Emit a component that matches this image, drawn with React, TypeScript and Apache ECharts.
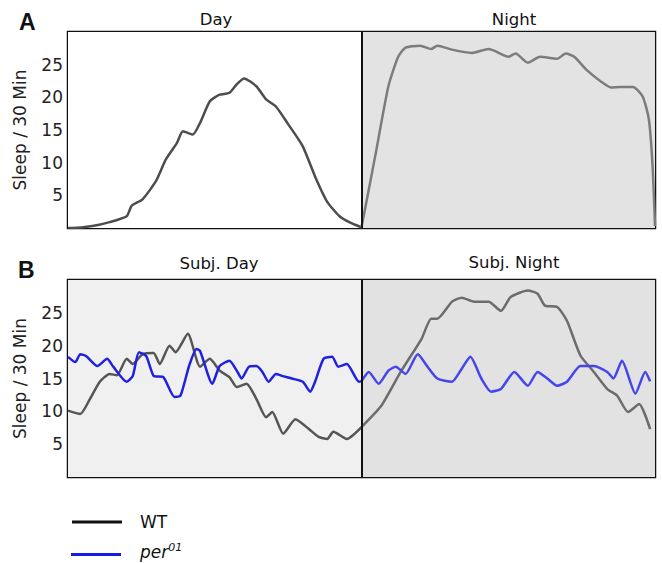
import React, { useEffect, useRef } from "react";
import * as echarts from "echarts";

// Panel A (LD): hours 0-24, sleep per 30 min
const aDayT = [0, 0.2, 1.0, 1.7, 2.4, 2.6, 3.05, 3.6, 4.0, 4.45, 4.7, 5.1, 5.4, 5.8, 6.2, 6.6, 6.9, 7.2, 7.7, 8.1, 8.5, 9.0, 9.6, 10.1, 10.6, 11.1, 11.5, 12];
const aDayV = [0, 0, 0.3, 0.9, 1.8, 3.4, 4.4, 7.2, 10.5, 13, 14.8, 14.3, 16.1, 19.4, 20.4, 20.7, 22, 22.9, 21.7, 19.7, 18.6, 15.9, 12.5, 7.9, 4, 1.8, 0.9, 0.1];
const aNightT = [12, 12.56, 13.1, 13.5, 13.8, 14.4, 14.85, 15.1, 15.7, 16.5, 17.2, 17.45, 18, 18.3, 18.8, 19.3, 20, 20.35, 20.7, 21.2, 21.8, 22.2, 22.6, 23.1, 23.5, 23.75, 23.9, 24];
const aNightV = [0.1, 11, 21.7, 26.2, 27.6, 27.9, 27.4, 27.9, 27.3, 26.8, 27.4, 27.1, 26.2, 26.7, 25.3, 26.2, 25.9, 26.7, 26.2, 24.2, 22.4, 21.5, 21.6, 21.6, 20.1, 16.6, 9.5, 0.3];

// Panel B (DD): WT and per01
const bWtT = [0, 0.5, 0.9, 1.3, 1.7, 2.0, 2.4, 2.65, 3.05, 3.5, 3.75, 4.15, 4.4, 4.9, 5.4, 5.8, 6.2, 6.6, 6.9, 7.3, 7.7, 8.1, 8.35, 8.8, 9.3, 9.85, 10.25, 10.6, 10.85, 11.4, 12, 12.8, 13.6, 14.45, 14.85, 15.1, 15.7, 16.1, 16.6, 17.2, 17.7, 18.1, 18.8, 19.2, 19.5, 20, 20.4, 20.95, 21.5, 22.05, 22.45, 22.9, 23.35, 23.8];
const bWtV = [10.1, 9.6, 11.9, 14.5, 15.7, 15.5, 18, 17.2, 18.7, 18.9, 17.2, 20, 19, 21.8, 16.8, 18, 16.2, 15.2, 13.7, 14.2, 11.9, 9.1, 9.9, 6.6, 8.8, 7.3, 6.1, 5.8, 6.9, 5.8, 7.6, 10.8, 16, 21, 24.1, 24.1, 26.7, 27.3, 26.7, 26.7, 25.3, 27.4, 28.4, 27.9, 26.1, 25.9, 23.8, 18.5, 16, 13.4, 12.4, 9.9, 11.1, 7.3];
const bPerT = [0, 0.3, 0.5, 0.75, 1.2, 1.6, 1.85, 2.4, 2.65, 2.9, 3.2, 3.5, 3.9, 4.35, 4.6, 4.95, 5.25, 5.4, 5.9, 6.2, 6.6, 6.9, 7.1, 7.4, 7.7, 7.95, 8.2, 8.5, 8.75, 9.15, 9.6, 9.9, 10.1, 10.45, 10.8, 11.05, 11.4, 11.9, 12, 12.3, 12.7, 13.1, 13.4, 13.8, 14.3, 14.7, 15.1, 15.7, 16.1, 16.45, 16.9, 17.3, 17.7, 18.25, 18.8, 19.2, 19.6, 20, 20.4, 20.95, 21.5, 22.05, 22.3, 22.65, 23.2, 23.6, 23.8];
const bPerV = [18.3, 17.5, 18.7, 18.4, 16.9, 18, 16.8, 14.5, 15.4, 19, 18.4, 15.4, 15.2, 12.2, 12.4, 16.9, 19.5, 19.2, 14.2, 16.9, 17.7, 16.2, 15, 16.8, 16.9, 16, 14.5, 15.7, 15.4, 15, 14.5, 13, 14.5, 18, 18.3, 16.8, 17.2, 14.5, 14.6, 16, 14.2, 16.2, 16.8, 15.7, 18.7, 16.8, 15, 14.5, 16.5, 18.3, 15, 13, 13.4, 16, 13.9, 16, 15, 13.9, 14.5, 16.9, 16.9, 16, 15, 17.7, 12.7, 16, 14.6];

const yTicks = [5, 10, 15, 20, 25];
const panelTitles = [["Day", "Night"], ["Subj. Day", "Subj. Night"]];
const panelLetters = ["A", "B"];
const legendNames = ["WT", "per01"];

const pairs = (t: number[], v: number[]) => t.map((x, i) => [x, v[i]]);
const part = (t: number[], v: number[], day: boolean) =>
  pairs(t, v).filter((p) => (day ? p[0] <= 12 : p[0] >= 12));

const FONT = "DejaVu Sans, Liberation Sans, Arial, sans-serif";
const BOLD = "Liberation Sans, Arial, sans-serif";

export default function App() {
  const ref = useRef<HTMLDivElement>(null);
  useEffect(() => {
    if (!ref.current) return;
    const chart = echarts.init(ref.current, undefined, { renderer: "svg" });
    const grids = [
      { left: 68, top: 32, width: 587, height: 196 },
      { left: 68, top: 280, width: 587, height: 197 },
    ];
    const yAxis = grids.map((_, i) => ({
      type: "value",
      gridIndex: i,
      min: 0,
      max: 30,
      interval: 5,
      name: "Sleep / 30 Min",
      nameLocation: "middle",
      nameGap: 40,
      nameTextStyle: { fontSize: 17, color: "#222", fontFamily: FONT },
      axisLine: { show: false },
      axisTick: { show: false },
      splitLine: { show: false },
      axisLabel: {
        fontSize: 17,
        color: "#222",
        fontFamily: FONT,
        margin: 5,
        formatter: (v: number) => (yTicks.includes(v) ? String(v) : ""),
      },
    }));
    const xAxis = grids.map((_, i) => ({
      type: "value",
      gridIndex: i,
      min: 0,
      max: 24,
      show: false,
    }));
    const bgArea = (dayColor: string, nightColor: string) => ({
      silent: true,
      data: [
        [{ xAxis: 0, itemStyle: { color: dayColor } }, { xAxis: 12 }],
        [{ xAxis: 12, itemStyle: { color: nightColor } }, { xAxis: 24 }],
      ],
    });
    const divider = {
      silent: true,
      symbol: "none",
      label: { show: false },
      lineStyle: { color: "#111", width: 2, type: "solid" },
      data: [{ xAxis: 12 }],
    };
    const line = (xi: number, data: number[][], color: string, extra: any = {}) => ({
      type: "line",
      xAxisIndex: xi,
      yAxisIndex: xi,
      data,
      showSymbol: false,
      smooth: 0.2,
      lineStyle: { color, width: 2.5 },
      z: 3,
      ...extra,
    });
    const titleText = (text: string, x: number, y: number) => ({
      type: "text",
      x,
      y,
      style: { text, fontSize: 16.5, fill: "#111", fontFamily: FONT, align: "center", verticalAlign: "middle" },
    });
    chart.setOption({
      animation: false,
      grid: grids.map((g) => ({ ...g, show: true, borderColor: "#111", borderWidth: 2.5, backgroundColor: "transparent" })),
      xAxis,
      yAxis,
      series: [
        line(0, part(aDayT, aDayV, true), "#4d4d4d", { markArea: bgArea("#ffffff", "#e3e3e3"), markLine: divider }),
        line(0, part(aNightT, aNightV, false), "#7c7c7c"),
        line(1, part(bWtT, bWtV, true), "#555555", { markArea: bgArea("#f0f0f0", "#e2e2e2"), markLine: divider }),
        line(1, part(bWtT, bWtV, false), "#6c6c6c"),
        line(1, part(bPerT, bPerV, true), "#2020e0", { z: 4 }),
        line(1, part(bPerT, bPerV, false), "#4545ec", { z: 4 }),
      ],
      graphic: [
        { type: "text", x: 19, y: 22, style: { text: panelLetters[0], fontSize: 23, fontWeight: "bold", fill: "#111", fontFamily: BOLD, verticalAlign: "middle" } },
        { type: "text", x: 18, y: 270, style: { text: panelLetters[1], fontSize: 23, fontWeight: "bold", fill: "#111", fontFamily: BOLD, verticalAlign: "middle" } },
        titleText(panelTitles[0][0], 216, 19),
        titleText(panelTitles[0][1], 514, 19),
        titleText(panelTitles[1][0], 219, 263),
        titleText(panelTitles[1][1], 514, 262),
        { type: "line", shape: { x1: 72, y1: 522, x2: 122, y2: 522 }, style: { stroke: "#111", lineWidth: 3 } },
        { type: "line", shape: { x1: 71, y1: 554.5, x2: 121, y2: 554.5 }, style: { stroke: "#1a1ae8", lineWidth: 3 } },
        { type: "text", x: 140, y: 522, style: { text: legendNames[0], fontSize: 17, fill: "#111", fontFamily: FONT, verticalAlign: "middle" } },
        {
          type: "text",
          x: 140,
          y: 552,
          style: {
            text: "{i|per}{s|01}",
            fontFamily: FONT,
            verticalAlign: "middle",
            rich: {
              i: { fontSize: 17, fontStyle: "italic", fill: "#111", fontFamily: FONT },
              s: { fontSize: 11, fontStyle: "italic", fill: "#111", fontFamily: FONT, verticalAlign: "top", padding: [0, 0, 9, 0] },
            },
          },
        },
      ],
    });
    return () => chart.dispose();
  }, []);
  return <div ref={ref} style={{ position: "absolute", left: 0, top: 0, width: 662, height: 563 }} />;
}
